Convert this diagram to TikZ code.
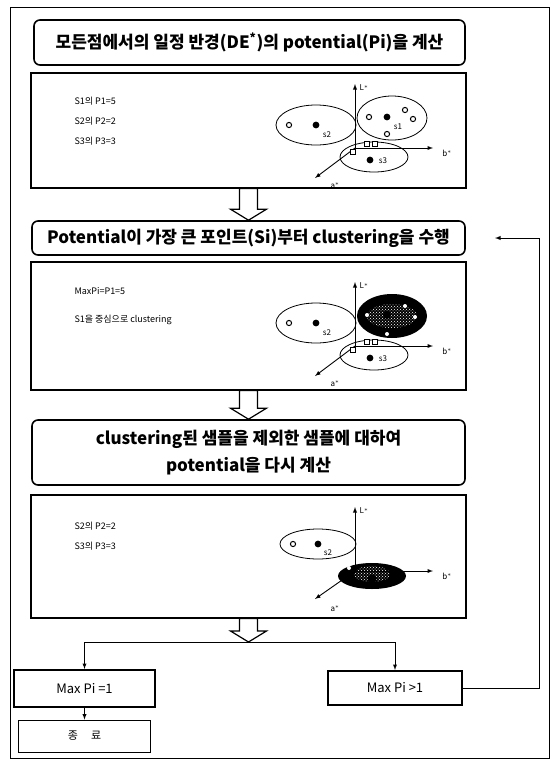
\documentclass[tikz,border=0pt]{standalone}
\usepackage{fontspec}
\setmainfont{Noto Sans CJK KR}
\usepackage{tikz}
\usetikzlibrary{calc,patterns}

% hollow block arrow between two anchors
\newcommand{\hollowarrow}[2]{%
\draw[hollow] ($(#1)+(-9pt,0)$) -- ($(#1)+(9pt,0)$) -- ($(#2)+(9pt,11pt)$)
  -- ($(#2)+(18pt,11pt)$) -- (#2) -- ($(#2)+(-18pt,11pt)$)
  -- ($(#2)+(-9pt,11pt)$) -- cycle;}

\begin{document}
\begin{tikzpicture}[x=1pt,y=-1pt]
\tikzstyle{head}=[draw, line width=1.6pt, rounded corners=6pt, align=center,
  font=\bfseries\fontsize{17}{27}\selectfont]
\tikzstyle{panel}=[draw, line width=1.1pt, minimum width=435pt]
\tikzstyle{hollow}=[draw, fill=white, line width=1.2pt, line join=miter]
\tikzstyle{txt}=[anchor=west, font=\fontsize{9}{10}\selectfont]
\tikzstyle{lab}=[font=\fontsize{8}{9}\selectfont, inner sep=1pt]
\tikzstyle{axis}=[line width=0.9pt, -latex]
\tikzstyle{opt}=[draw, fill=white, line width=1pt]
\tikzstyle{decide}=[draw, line width=2pt, font=\fontsize{13}{15}\selectfont]
\tikzstyle{flow}=[line width=0.9pt, -latex]

\useasboundingbox (0,0) rectangle (554,761);
\draw[line width=0.8pt] (10,7) rectangle (549,758);

% headers and panels
\path (249.5,42.5) node[head, minimum width=431pt, minimum height=45pt] (head1)
  {모든점에서의 일정 반경(DE\textsuperscript{*})의 potential(Pi)을 계산};
\path (248.5,130.5) node[panel, minimum height=115pt] (panel1) {};
\path (248.5,238) node[head, minimum width=433pt, minimum height=34pt] (head2)
  {Potential이 가장 큰 포인트(Si)부터 clustering을 수행};
\path (248.5,326) node[panel, minimum height=128pt] (panel2) {};
\path (248.5,452.5) node[head, minimum width=433pt, minimum height=65pt] (head3)
  {clustering된 샘플을 제외한 샘플에 대하여\\potential을 다시 계산};
\path (248.5,556.5) node[panel, minimum height=123pt] (panel3) {};

\node[txt] (t11) at (71,101) {S1의 P1=5};
\node[txt] (t12) at (71,121) {S2의 P2=2};
\node[txt] (t13) at (71,141) {S3의 P3=3};
\node[txt] (t21) at (71,291) {MaxPi=P1=5};
\node[txt] (t22) at (71,320) {S1을 중심으로 clustering};
\node[txt] (t31) at (71,526) {S2의 P2=2};
\node[txt] (t32) at (71,546) {S3의 P3=3};

% panel 1
\begin{scope}[shift={(355,148)}]
\draw[line width=0.8pt] (-39,-23) ellipse (40pt and 20pt);
\draw[line width=0.8pt] (37,-30) ellipse (35pt and 22pt);
\draw[line width=0.8pt] (19,9) ellipse (34pt and 15pt);
\draw[axis] (0,0) -- (0,-64);
\draw[axis] (0,0) -- (78,0);
\draw[axis] (0,0) -- (-40,30);
\node[lab] (L1) at (9,-60) {L$^*$};
\node[lab] (b1) at (92,5) {b$^*$};
\node[lab] (a1) at (-20,38) {a$^*$};
\draw[opt] (-66,-23) circle (2.6pt);
\fill (-39,-23) circle (3.4pt);
\node[lab] (s12) at (-28,-13) {s2};
\draw[opt] (14,-31) circle (2.6pt);
\fill (32,-31) circle (3.4pt);
\draw[opt] (50,-38) circle (2.6pt);
\draw[opt] (58,-29) circle (2.6pt);
\draw[opt] (32,-14) circle (2.6pt);
\node[lab] (s11) at (43,-21) {s1};
\draw[opt] (9,-7) rectangle ++(5,5);
\draw[opt] (17,-7) rectangle ++(5,5);
\draw[opt] (-5,1) rectangle ++(5,5);
\fill (15,12) circle (3.4pt);
\node[lab] (s13) at (28,13) {s3};
\end{scope}

% panel 2
\begin{scope}[shift={(355,346)}]
\draw[line width=0.8pt] (-39,-23) ellipse (40pt and 20pt);
\fill[black] (37,-30) ellipse (35pt and 22pt);
\fill[pattern=crosshatch dots, pattern color=white] (37,-30) ellipse (25pt and 12pt);
\draw[line width=0.8pt] (19,9) ellipse (34pt and 15pt);
\draw[axis] (0,0) -- (0,-64);
\draw[axis] (0,0) -- (78,0);
\draw[axis] (0,0) -- (-40,30);
\node[lab] (L2) at (9,-60) {L$^*$};
\node[lab] (b2) at (92,5) {b$^*$};
\node[lab] (a2) at (-20,38) {a$^*$};
\draw[opt] (-66,-23) circle (2.6pt);
\fill (-39,-23) circle (3.4pt);
\node[lab] (s22) at (-28,-13) {s2};
\fill[white] (12,-31) circle (2pt);
\fill[black] (32,-31) circle (4pt);
\fill[white] (50,-40) circle (2pt);
\fill[white] (60,-29) circle (2pt);
\fill[white] (32,-12) circle (2pt);
\draw[opt] (9,-7) rectangle ++(5,5);
\draw[opt] (17,-7) rectangle ++(5,5);
\draw[opt] (-5,1) rectangle ++(5,5);
\fill (15,12) circle (3.4pt);
\node[lab] (s23) at (28,13) {s3};
\end{scope}

% panel 3
\begin{scope}[shift={(355,571)}]
\draw[line width=0.8pt] (-37,-27) ellipse (38pt and 15pt);
\fill[black] (17,5) ellipse (34pt and 13pt);
\fill[pattern=crosshatch dots, pattern color=white] (17,3) ellipse (18pt and 8pt);
\draw[axis] (0,0) -- (0,-64);
\draw[axis] (0,0) -- (78,0);
\draw[axis] (0,0) -- (-40,28);
\node[lab] (L3) at (9,-60) {L$^*$};
\node[lab] (b3) at (92,5) {b$^*$};
\node[lab] (a3) at (-20,38) {a$^*$};
\draw[opt] (-62,-27) circle (2.6pt);
\fill (-37,-27) circle (3.4pt);
\node[lab] (s32) at (-27,-18) {s2};
\fill[white] (-6,-3) circle (2pt);
\fill[white] (12,-10) circle (2pt);
\fill[black] (17,8) circle (4.5pt);
\end{scope}

% block arrows
\coordinate (split) at (248.5,642);
\hollowarrow{panel1.south}{head2.north}
\hollowarrow{panel2.south}{head3.north}
\hollowarrow{panel3.south}{split}

% decisions
\path (84.5,688.5) node[decide, minimum width=141pt, minimum height=37pt] (pone) {Max Pi =1};
\path (84.5,736) node[draw, line width=0.8pt, minimum width=132pt, minimum height=32pt,
  font=\fontsize{11}{13}\selectfont] (stop) {종\hspace{1.2em}료};
\path (395,688) node[decide, minimum width=134pt, minimum height=34pt] (pmore) {Max Pi >1};
\coordinate (fbend) at (495,238);

\draw[flow] (split) -| (pone.north);
\draw[flow] (split) -| (pmore.north);
\draw[flow] (pone.south) -- (stop.north);
\draw[flow] (pmore.east) -- ++(76,0) |- (fbend);

\end{tikzpicture}
\end{document}
